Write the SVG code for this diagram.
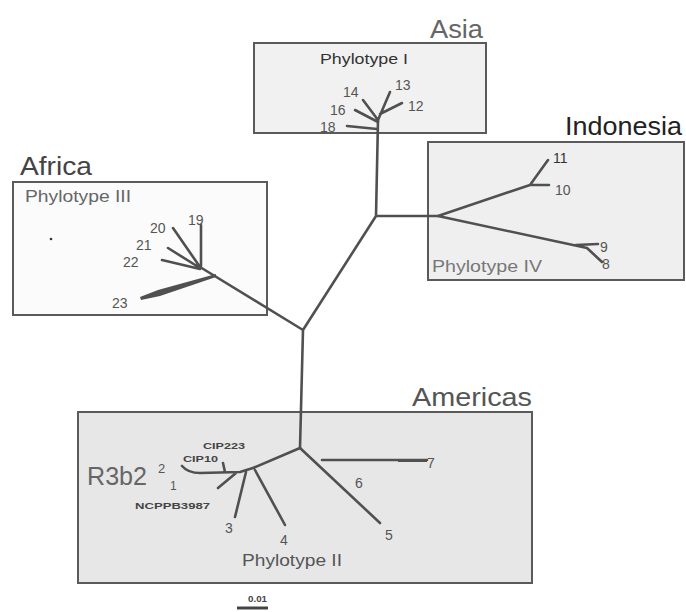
<svg xmlns="http://www.w3.org/2000/svg" width="686" height="612" viewBox="0 0 686 612">
<style>
.box{stroke:#5a5a5a;stroke-width:2}
.br{stroke:#505050;stroke-width:2.6;fill:none;stroke-linecap:round;stroke-linejoin:round}
.t{font-family:"Liberation Sans",Arial,sans-serif;fill:#555}
.n{font-size:14px}
.reg{font-size:26px}
.ph{font-size:16px}
.sm{font-size:9px;font-weight:bold;fill:#444}
</style>
<rect width="686" height="612" fill="#ffffff"/>
<g id="asia">
<rect class="box" x="254" y="43" width="232" height="90" fill="#f1f1f1"/>
<text class="t reg" x="430" y="38" textLength="53" lengthAdjust="spacingAndGlyphs" style="fill:#666">Asia</text>
<text class="t" x="320" y="64" font-size="15" textLength="88" lengthAdjust="spacingAndGlyphs" style="fill:#333">Phylotype I</text>
</g>
<g id="indonesia">
<rect class="box" x="428" y="142" width="256" height="138" fill="#efefef"/>
<text class="t reg" x="565" y="135" textLength="117" lengthAdjust="spacingAndGlyphs" style="fill:#222">Indonesia</text>
<text class="t ph" x="432" y="272" font-size="17" textLength="110" lengthAdjust="spacingAndGlyphs" style="fill:#777">Phylotype IV</text>
</g>
<g id="africa">
<rect class="box" x="13" y="182" width="254" height="133" fill="#fbfbfb"/>
<text class="t reg" x="20" y="175" textLength="72" lengthAdjust="spacingAndGlyphs" style="fill:#444">Africa</text>
<text class="t ph" x="25" y="202" textLength="106" lengthAdjust="spacingAndGlyphs" style="fill:#666">Phylotype III</text>
<circle cx="51" cy="239" r="1.3" fill="#333"/>
</g>
<g id="americas">
<rect class="box" x="78" y="412" width="454" height="171" fill="#e7e7e7"/>
<text class="t reg" x="412" y="406" textLength="120" lengthAdjust="spacingAndGlyphs">Americas</text>
<text class="t ph" x="242" y="566" font-size="17" textLength="100" lengthAdjust="spacingAndGlyphs">Phylotype II</text>
<text class="t" x="87" y="485" font-size="25" textLength="60" lengthAdjust="spacingAndGlyphs" style="fill:#666">R3b2</text>
</g>
<g id="connectors">
<path class="br" d="M378,120 L376,216 L438,216 M376,216 L303,330 L200,267 M303,330 L300,448"/>
<path class="br" d="M378,120 L390,92 M380,114 L402,103 M378,120 L363,100 M378,122 L355,110 M377,129 L347,126"/>
<path class="br" d="M438,216 L530,185 L548,160 M530,185 L549,185 M438,216 L587,248 L602,262 M576,245 L598,244"/>
<path class="br" d="M201,266 L201,225 M200,267 L173,228 M200,268 L168,248 M200,269 L162,260"/>
<polygon points="140,297 158,290 216,274 216,277 160,296 141,300" fill="#505050"/>
<path class="br" d="M300,448 L380,523 M322,460 L427,460 M300,448 L253,468 M255,470 L285,525 M246,472 L235,517 M182,466 Q188,473 200,473 L240,472 L253,468 M223,463 L225,472 M218,488 L236,473"/>
<polygon points="398,459 427,459 427,462 398,462" fill="#505050"/>
<path d="M237,608 L268,608" stroke="#444" stroke-width="3"/>
</g>
<g id="labels">
<text class="t n" x="395" y="90">13</text>
<text class="t n" x="408" y="111">12</text>
<text class="t n" x="343" y="97">14</text>
<text class="t n" x="330" y="115">16</text>
<text class="t n" x="320" y="132">18</text>
<text class="t n" x="553" y="163" style="fill:#333">11</text>
<text class="t n" x="555" y="195">10</text>
<text class="t n" x="600" y="252">9</text>
<text class="t n" x="602" y="269">8</text>
<text class="t n" x="150" y="233">20</text>
<text class="t n" x="188" y="225">19</text>
<text class="t n" x="136" y="250">21</text>
<text class="t n" x="123" y="267">22</text>
<text class="t n" x="112" y="308">23</text>
<text class="t n" x="427" y="468">7</text>
<text class="t n" x="355" y="488">6</text>
<text class="t n" x="385" y="540">5</text>
<text class="t n" x="280" y="545">4</text>
<text class="t n" x="225" y="533">3</text>
<text class="t" x="158" y="473" font-size="13">2</text>
<text class="t" x="170" y="490" font-size="12">1</text>
<text class="t sm" x="135" y="509" textLength="75" lengthAdjust="spacingAndGlyphs">NCPPB3987</text>
<text class="t sm" x="183" y="462" textLength="35" lengthAdjust="spacingAndGlyphs">CIP10</text>
<text class="t sm" x="203" y="449" textLength="42" lengthAdjust="spacingAndGlyphs">CIP223</text>
<text class="t sm" x="248" y="602" textLength="19" lengthAdjust="spacingAndGlyphs">0.01</text>
</g>
</svg>
